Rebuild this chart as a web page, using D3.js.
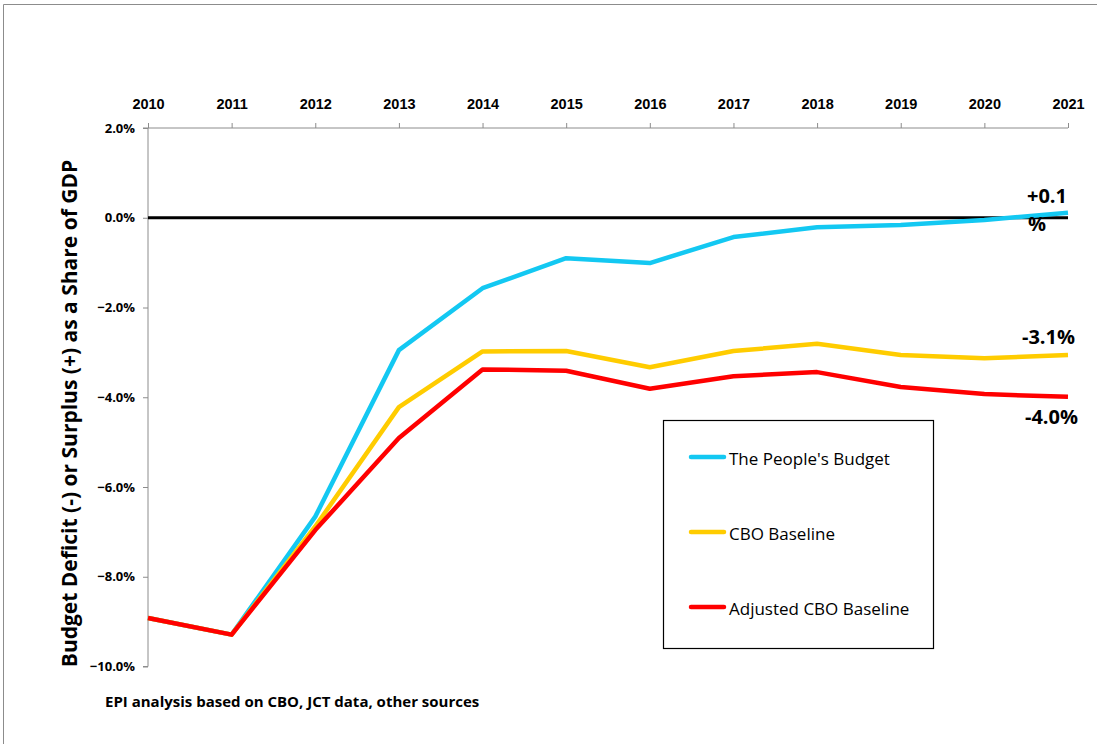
<!DOCTYPE html>
<html>
<head>
<meta charset="utf-8">
<script src="https://cdn.jsdelivr.net/npm/d3@7"></script>
<style>
  html, body { margin: 0; padding: 0; background: #fff; }
  svg { display: block; }
</style>
</head>
<body>
<svg id="chart" width="1097" height="744"></svg>
<script>
// ---- Data ----
const years = [2010, 2011, 2012, 2013, 2014, 2015, 2016, 2017, 2018, 2019, 2020, 2021];
const peoplesBudget = [-8.92, -9.29, -6.66, -2.95, -1.57, -0.90, -1.01, -0.43, -0.21, -0.16, -0.05, 0.11];
const cboBaseline   = [-8.92, -9.29, -6.88, -4.22, -2.98, -2.97, -3.33, -2.97, -2.81, -3.06, -3.13, -3.06];
const adjustedCbo   = [-8.92, -9.29, -6.96, -4.91, -3.38, -3.41, -3.81, -3.53, -3.44, -3.77, -3.93, -3.99];
const yTicks = [2, 0, -2, -4, -6, -8, -10];
const seriesNames = ["The People's Budget", "CBO Baseline", "Adjusted CBO Baseline"];
const seriesColors = ["#13c8f2", "#ffcc00", "#ff0000"];
const endLabels = ["+0.1", "-3.1%", "-4.0%"];
const yTitle = "Budget Deficit (-) or Surplus (+) as a Share of GDP";
const sourceNote = "EPI analysis based on CBO, JCT data, other sources";

const series = [peoplesBudget, cboBaseline, adjustedCbo];

// ---- Layout ----
const svg = d3.select("#chart");
const pL = 148, pR = 1068, pT = 128, pB = 666.5;

const x = d3.scaleLinear().domain([2010, 2021]).range([pL, pR]);
const y = d3.scaleLinear().domain([-10, 2]).range([pB, pT]);

// chart border (top/left)
svg.append("path").attr("d", "M3.5,744 L3.5,4.5 L1097,4.5")
  .attr("fill", "none").attr("stroke", "#8c8c8c").attr("stroke-width", 1);

// y axis
const yAxis = d3.axisLeft(y).tickValues(yTicks).tickSize(5).tickPadding(8)
  .tickFormat(d => d3.format(".1f")(d) + "%");
const gy = svg.append("g").attr("transform", `translate(${pL},0)`).call(yAxis);
gy.select(".domain").attr("stroke", "#8c8c8c").attr("d", `M-5,${y(-10)}H0V${y(2)}H-5`);
gy.selectAll(".tick line").attr("stroke", "#8c8c8c");
gy.selectAll(".tick text").attr("font-family", "'Open Sans', sans-serif")
  .attr("font-weight", "bold").attr("font-size", "13px").attr("fill", "#000");

// x axis at top (at 2.0%)
const xAxis = d3.axisTop(x).tickValues(years).tickSize(5).tickPadding(14)
  .tickFormat(d3.format("d"));
const gx = svg.append("g").attr("transform", `translate(0,${y(2)})`).call(xAxis);
gx.select(".domain").attr("stroke", "#8c8c8c").attr("d", `M${pL},0H${pR}`);
gx.selectAll(".tick line").attr("stroke", "#8c8c8c");
gx.selectAll(".tick text").attr("font-family", "'Liberation Sans Narrow', 'Arial Narrow', sans-serif")
  .attr("font-weight", "bold").attr("font-size", "14.5px").attr("fill", "#000");

// zero line
svg.append("line").attr("x1", pL).attr("x2", pR)
  .attr("y1", y(0)).attr("y2", y(0)).attr("stroke", "#000").attr("stroke-width", 3);

// series lines
const line = d3.line().x((d, i) => x(years[i])).y(d => y(d));
series.forEach((s, k) => {
  svg.append("path").datum(s).attr("d", line)
    .attr("fill", "none").attr("stroke", seriesColors[k])
    .attr("stroke-width", 4.5).attr("stroke-linejoin", "round");
});

// end labels
const lblStyle = sel => sel.attr("font-family", "'Open Sans', sans-serif")
  .attr("font-weight", "bold").attr("font-size", "20px").attr("fill", "#000");
svg.append("text").attr("x", 1047).attr("y", 203).attr("text-anchor", "middle").text(endLabels[0]).call(lblStyle);
svg.append("text").attr("x", 1037).attr("y", 231).attr("text-anchor", "middle").text("%").call(lblStyle);
svg.append("text").attr("x", 1048.5).attr("y", 344).attr("text-anchor", "middle").text(endLabels[1]).call(lblStyle);
svg.append("text").attr("x", 1051.5).attr("y", 424).attr("text-anchor", "middle").text(endLabels[2]).call(lblStyle);

// legend
const lg = svg.append("g");
lg.append("rect").attr("x", 663.5).attr("y", 420.5).attr("width", 270).attr("height", 228)
  .attr("fill", "#fff").attr("stroke", "#000").attr("stroke-width", 1.2);
seriesNames.forEach((name, k) => {
  const yy = 457 + k * 75;
  lg.append("line").attr("x1", 691).attr("x2", 724).attr("y1", yy).attr("y2", yy)
    .attr("stroke", seriesColors[k]).attr("stroke-width", 4.5).attr("stroke-linecap", "round");
  lg.append("text").attr("x", 729).attr("y", yy + 8).text(name)
    .attr("font-family", "'Open Sans', sans-serif").attr("font-size", "17px").attr("fill", "#000");
});

// y title
svg.append("text")
  .attr("transform", `translate(77,413.5) rotate(-90)`)
  .attr("text-anchor", "middle")
  .attr("font-family", "'Open Sans', sans-serif").attr("font-weight", "bold")
  .attr("font-size", "21px").attr("fill", "#000").text(yTitle);

// source
svg.append("text").attr("x", 105).attr("y", 707).text(sourceNote)
  .attr("font-family", "'Open Sans', sans-serif").attr("font-weight", "bold")
  .attr("font-size", "15px").attr("fill", "#000");
</script>
</body>
</html>
